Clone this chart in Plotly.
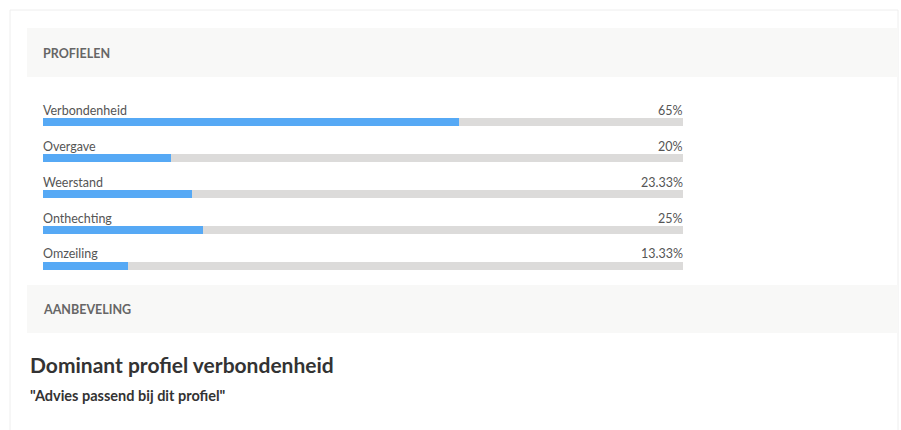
import plotly.graph_objects as go

categories = ["Verbondenheid", "Overgave", "Weerstand", "Onthechting", "Omzeiling"]
values = [65, 20, 23.33, 25, 13.33]
value_labels = ["65%", "20%", "23.33%", "25%", "13.33%"]
track_max = 100

section_titles = ["PROFIELEN", "AANBEVELING"]
headline = "Dominant profiel verbondenheid"
advice = "\"Advies passend bij dit profiel\""

W, H = 901, 430

def px_x(p):
    return p / W

def px_y(p):
    return 1 - p / H

BLUE = "#56a9f5"
TRACK = "#dcdbda"
LABEL = "#555555"
FONT = "Lato, 'Open Sans', sans-serif"

fig = go.Figure()

fig.add_trace(go.Bar(
    y=categories, x=[track_max] * len(categories), orientation="h",
    marker=dict(color=TRACK, line=dict(width=0)), width=0.222,
    hoverinfo="skip", showlegend=False,
))
fig.add_trace(go.Bar(
    y=categories, x=values, orientation="h",
    marker=dict(color=BLUE, line=dict(width=0)), width=0.222,
    showlegend=False,
))

annotations = []
for cat, lab in zip(categories, value_labels):
    annotations.append(dict(
        x=0, y=cat, xref="x", yref="y", text=cat, showarrow=False,
        xanchor="left", yanchor="middle", yshift=12, xshift=-2,
        font=dict(family=FONT, size=12.5, color=LABEL),
    ))
    annotations.append(dict(
        x=track_max, y=cat, xref="x", yref="y", text=lab, showarrow=False,
        xanchor="right", yanchor="middle", yshift=12, xshift=2,
        font=dict(family=FONT, size=12.5, color=LABEL),
    ))

# section headers
header_y = [53, 309]
for t, yc in zip(section_titles, header_y):
    annotations.append(dict(
        x=px_x(43), y=px_y(yc), xref="paper", yref="paper", text="<b>" + t + "</b>",
        showarrow=False, xanchor="left", yanchor="middle", xshift=-2,
        font=dict(family=FONT, size=12.5, color="#666666"),
    ))

annotations.append(dict(
    x=px_x(30), y=px_y(364), xref="paper", yref="paper", text="<b>" + headline + "</b>",
    showarrow=False, xanchor="left", yanchor="middle", xshift=-2,
    font=dict(family=FONT, size=21, color="#333333"),
))
annotations.append(dict(
    x=px_x(30), y=px_y(395), xref="paper", yref="paper", text="<b>" + advice + "</b>",
    showarrow=False, xanchor="left", yanchor="middle", xshift=-2,
    font=dict(family=FONT, size=14.5, color="#333333"),
))

shapes = [
    # card border
    dict(type="rect", xref="paper", yref="paper",
         x0=px_x(10), x1=px_x(898), y0=px_y(10), y1=px_y(432),
         line=dict(color="#eeeeee", width=1), fillcolor="rgba(0,0,0,0)", layer="below"),
    # header bands
    dict(type="rect", xref="paper", yref="paper",
         x0=px_x(27), x1=px_x(898), y0=px_y(28), y1=px_y(77),
         line=dict(width=0), fillcolor="#f8f8f7", layer="below"),
    dict(type="rect", xref="paper", yref="paper",
         x0=px_x(27), x1=px_x(898), y0=px_y(285), y1=px_y(333),
         line=dict(width=0), fillcolor="#f8f8f7", layer="below"),
]

fig.update_layout(
    width=W, height=H,
    margin=dict(l=0, r=0, t=0, b=0),
    paper_bgcolor="white", plot_bgcolor="rgba(0,0,0,0)",
    barmode="overlay", bargap=0,
    xaxis=dict(domain=[px_x(43), px_x(683)], range=[0, track_max],
               showgrid=False, zeroline=False, showticklabels=False,
               showline=False, fixedrange=True),
    yaxis=dict(domain=[px_y(290), px_y(98)], type="category",
               categoryorder="array", categoryarray=categories,
               range=[4.667, -0.667],
               showgrid=False, zeroline=False, showticklabels=False,
               showline=False, fixedrange=True),
    annotations=annotations,
    shapes=shapes,
    showlegend=False,
)

fig.write_html("out.html", config={"displayModeBar": False})
